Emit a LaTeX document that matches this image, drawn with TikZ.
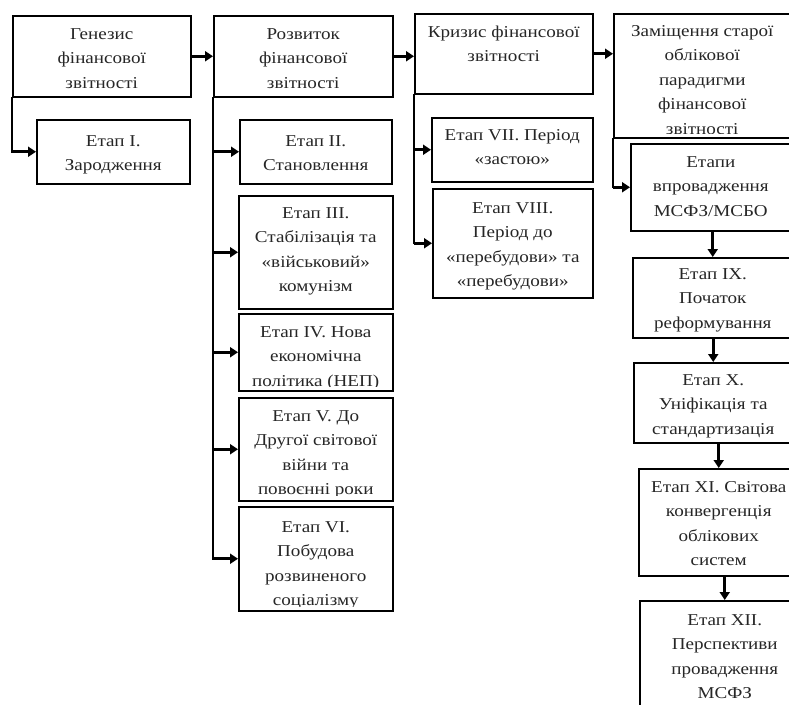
\documentclass[tikz,border=0pt]{standalone}
\usepackage{fontspec}
\setmainfont{Liberation Serif}[FakeStretch=1.15]
\usetikzlibrary{arrows.meta}

\newcommand\vys{\rule{0pt}{13pt}}

\begin{document}
\begin{tikzpicture}[x=1pt, y=-1pt]
	\tikzset{ramka/.style={draw=black, line width=1.5pt, inner sep=0, anchor=north west},
		tekst/.style={anchor=north, align=center, inner sep=0, font=\fontsize{16.6}{24.5}\selectfont, text=black!85},
		liniya/.style={draw=black, line width=1.8pt, line cap=rect},
		strilka/.style={draw=black, line width=3pt, -{Triangle[length=8pt, width=10pt]}}};

	\useasboundingbox (0,0) rectangle (789,704);
	\clip (0,0) rectangle (789,704);

	% ramky
	\node[ramka, minimum width=178, minimum height=81]  (genezys)  at ( 12,  15) {};
	\node[ramka, minimum width=179, minimum height=81]  (rozvytok) at (213,  15) {};
	\node[ramka, minimum width=178, minimum height=80]  (kryzys)   at (414,  13) {};
	\node[ramka, minimum width=177, minimum height=124] (zamishch) at (613,  13) {};

	\node[ramka, minimum width=153, minimum height=64]  (etap1)    at ( 36, 119) {};
	\node[ramka, minimum width=152, minimum height=64]  (etap2)    at (239, 119) {};
	\node[ramka, minimum width=154, minimum height=113] (etap3)    at (238, 195) {};
	\node[ramka, minimum width=154, minimum height=77]  (etap4)    at (238, 313) {};
	\node[ramka, minimum width=154, minimum height=103] (etap5)    at (238, 397) {};
	\node[ramka, minimum width=154, minimum height=104] (etap6)    at (238, 506) {};
	\node[ramka, minimum width=161, minimum height=64]  (etap7)    at (431, 117) {};
	\node[ramka, minimum width=160, minimum height=109] (etap8)    at (432, 188) {};

	\node[ramka, minimum width=160, minimum height=87]  (vprov)    at (630, 143) {};
	\node[ramka, minimum width=160, minimum height=80]  (etap9)    at (632, 257) {};
	\node[ramka, minimum width=159, minimum height=80]  (etap10)   at (633, 362) {};
	\node[ramka, minimum width=160, minimum height=107] (etap11)   at (638, 468) {};
	\node[ramka, minimum width=170, minimum height=130] (etap12)   at (639, 600) {};

	% teksty
	\node[tekst] (genezys-t)  at ([yshift=-11pt]genezys.north)  {\vys Генезис\\фінансової\\звітності};
	\node[tekst] (rozvytok-t) at ([yshift=-11pt]rozvytok.north) {\vys Розвиток\\фінансової\\звітності};
	\node[tekst] (kryzys-t)   at ([yshift=-11pt]kryzys.north)   {\vys Кризис фінансової\\звітності};
	\begin{scope}
		\clip ([yshift=5pt]zamishch.south west) rectangle (zamishch.north east);
		\node[tekst] (zamishch-t) at ([yshift=-10pt]zamishch.north) {\vys Заміщення старої\\облікової\\парадигми\\фінансової\\звітності};
	\end{scope}

	\node[tekst] (etap1-t) at ([yshift=-14pt]etap1.north) {\vys Етап I.\\Зародження};
	\node[tekst] (etap2-t) at ([yshift=-14pt]etap2.north) {\vys Етап II.\\Становлення};
	\node[tekst] (etap3-t) at ([yshift=-10pt]etap3.north) {\vys Етап III.\\Стабілізація та\\«військовий»\\комунізм};
	\begin{scope}
		\clip ([yshift=5pt]etap4.south west) rectangle (etap4.north east);
		\node[tekst] (etap4-t) at ([yshift=-11pt]etap4.north) {\vys Етап IV. Нова\\економічна\\політика (НЕП)};
	\end{scope}
	\begin{scope}
		\clip ([yshift=6pt]etap5.south west) rectangle (etap5.north east);
		\node[tekst] (etap5-t) at ([yshift=-11pt]etap5.north) {\vys Етап V. До\\Другої світової\\війни та\\повоєнні роки};
	\end{scope}
	\begin{scope}
		\clip ([yshift=5pt]etap6.south west) rectangle (etap6.north east);
		\node[tekst] (etap6-t) at ([yshift=-13pt]etap6.north) {\vys Етап VI.\\Побудова\\розвиненого\\соціалізму};
	\end{scope}
	\node[tekst] (etap7-t) at ([yshift=-10pt]etap7.north) {\vys Етап VII. Період\\«застою»};
	\node[tekst] (etap8-t) at ([yshift=-12pt]etap8.north) {\vys Етап VIII.\\Період до\\«перебудови» та\\«перебудови»};

	\node[tekst] (vprov-t)  at ([yshift=-11pt]vprov.north)  {\vys Етапи\\впровадження\\МСФЗ/МСБО};
	\node[tekst] (etap9-t)  at ([yshift=-9pt]etap9.north)   {\vys Етап IX.\\Початок\\реформування};
	\node[tekst] (etap10-t) at ([yshift=-10pt]etap10.north) {\vys Етап X.\\Уніфікація та\\стандартизація};
	\node[tekst] (etap11-t) at ([yshift=-11pt]etap11.north) {\vys Етап XI. Світова\\конвергенція\\облікових\\систем};
	\node[tekst] (etap12-t) at ([yshift=-12pt]etap12.north) {\vys Етап XII.\\Перспективи\\провадження\\МСФЗ};

	% zv'yazky
	\draw[strilka] (genezys.east)  -- (genezys.east -| rozvytok.west);
	\draw[strilka] (rozvytok.east) -- (rozvytok.east -| kryzys.west);
	\draw[strilka] (kryzys.east)   -- (kryzys.east -| zamishch.west);

	\draw[liniya] (genezys.south west) -- (genezys.south west |- etap1.west);
	\draw[strilka] (genezys.south west |- etap1.west) -- (etap1.west);

	\draw[liniya] (rozvytok.south west) -- (rozvytok.south west |- etap6.west);
	\draw[strilka] (rozvytok.south west |- etap2.west) -- (etap2.west);
	\draw[strilka] (rozvytok.south west |- etap3.west) -- (etap3.west);
	\draw[strilka] (rozvytok.south west |- etap4.west) -- (etap4.west);
	\draw[strilka] (rozvytok.south west |- etap5.west) -- (etap5.west);
	\draw[strilka] (rozvytok.south west |- etap6.west) -- (etap6.west);

	\draw[liniya] (kryzys.south west) -- (kryzys.south west |- etap8.west);
	\draw[strilka] (kryzys.south west |- etap7.west) -- (etap7.west);
	\draw[strilka] (kryzys.south west |- etap8.west) -- (etap8.west);

	\draw[liniya] (zamishch.south west) -- (zamishch.south west |- vprov.west);
	\draw[strilka] (zamishch.south west |- vprov.west) -- (vprov.west);

	\draw[strilka] (etap9.north |- vprov.south)   -- (etap9.north);
	\draw[strilka] (etap10.north |- etap9.south)  -- (etap10.north);
	\draw[strilka] (etap11.north |- etap10.south) -- (etap11.north);
	\draw[strilka] (etap12.north |- etap11.south) -- (etap12.north);
\end{tikzpicture}
\end{document}
